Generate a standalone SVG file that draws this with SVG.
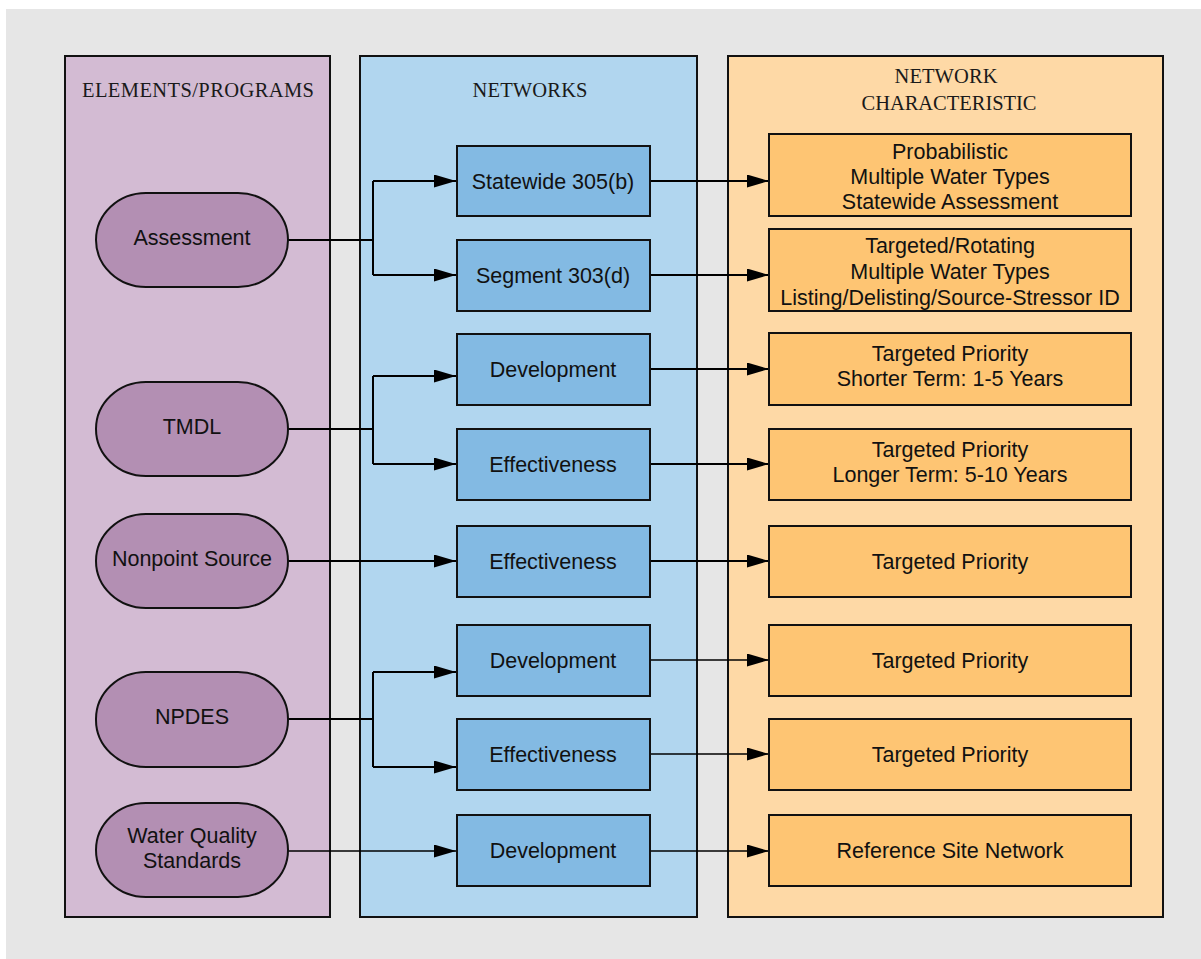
<svg xmlns="http://www.w3.org/2000/svg" width="1201" height="959" viewBox="0 0 1201 959">
<style>
.col{stroke:#111;stroke-width:2}
.title{font-family:"Liberation Serif","DejaVu Serif",serif;font-size:20.5px;fill:#1a1a1a;text-anchor:middle}
.t{font-family:"Liberation Sans",Arial,sans-serif;font-size:21.5px;fill:#111;text-anchor:middle}
.pill{fill:#b38fb3;stroke:#111;stroke-width:2}
.net{fill:#83bae3;stroke:#111;stroke-width:2}
.ch{fill:#fec573;stroke:#111;stroke-width:2}
.c{fill:none;stroke:#000;stroke-width:2}
.c2{fill:none;stroke:#000;stroke-width:1.5}
</style>
<defs>
<marker id="ah" viewBox="0 0 22 13" refX="22" refY="6.5" markerWidth="22" markerHeight="13" markerUnits="userSpaceOnUse" orient="auto">
<path d="M0,0 L22,6.5 L0,13 Z" fill="#000"/>
</marker>
</defs>
<rect x="0" y="0" width="1201" height="959" fill="#ffffff"/>
<rect x="6" y="9" width="1195" height="950" fill="#e6e6e6"/>
<g id="col-elements">
<rect class="col" x="65" y="56" width="265" height="861" fill="#d3bbd3"/>
<text class="title" x="198" y="97" textLength="232">ELEMENTS/PROGRAMS</text>
</g>
<g id="col-networks">
<rect class="col" x="360" y="56" width="337" height="861" fill="#b1d6ef"/>
<text class="title" x="530" y="97" textLength="115">NETWORKS</text>
</g>
<g id="col-characteristic">
<rect class="col" x="728" y="56" width="435" height="861" fill="#fed9a6"/>
<text class="title" x="946" y="83" textLength="103">NETWORK</text>
<text class="title" x="949" y="110" textLength="175">CHARACTERISTIC</text>
</g>
<g id="connectors">
<path class="c" d="M288,240 H373 M373,181 V275"/>
<path class="c" d="M373,181 H456" marker-end="url(#ah)"/>
<path class="c" d="M373,275 H456" marker-end="url(#ah)"/>
<path class="c" d="M650,181 H769" marker-end="url(#ah)"/>
<path class="c" d="M650,275 H769" marker-end="url(#ah)"/>
<path class="c" d="M288,429 H373 M373,376 V464"/>
<path class="c" d="M373,376 H456" marker-end="url(#ah)"/>
<path class="c" d="M373,464 H456" marker-end="url(#ah)"/>
<path class="c" d="M650,369 H769" marker-end="url(#ah)"/>
<path class="c" d="M650,464 H769" marker-end="url(#ah)"/>
<path class="c" d="M288,561 H456" marker-end="url(#ah)"/>
<path class="c" d="M650,561 H769" marker-end="url(#ah)"/>
<path class="c" d="M288,719 H373 M373,672 V767"/>
<path class="c" d="M373,672 H456" marker-end="url(#ah)"/>
<path class="c" d="M373,767 H456" marker-end="url(#ah)"/>
<path class="c2" d="M650,660 H769" marker-end="url(#ah)"/>
<path class="c2" d="M650,754 H769" marker-end="url(#ah)"/>
<path class="c2" d="M288,851 H456" marker-end="url(#ah)"/>
<path class="c2" d="M650,851 H769" marker-end="url(#ah)"/>
</g>
<g id="n-assessment"><rect class="pill" x="96" y="193" width="192" height="94" rx="50" ry="47"/><text class="t" x="192" y="245">Assessment</text></g>
<g id="n-tmdl"><rect class="pill" x="96" y="382" width="192" height="94" rx="50" ry="47"/><text class="t" x="192" y="434">TMDL</text></g>
<g id="n-nps"><rect class="pill" x="96" y="514" width="192" height="94" rx="50" ry="47"/><text class="t" x="192" y="566">Nonpoint Source</text></g>
<g id="n-npdes"><rect class="pill" x="96" y="672" width="192" height="95" rx="50" ry="47"/><text class="t" x="192" y="724">NPDES</text></g>
<g id="n-wqs"><rect class="pill" x="96" y="803" width="192" height="94" rx="50" ry="47"/><text class="t" x="192" y="843">Water Quality</text><text class="t" x="192" y="868">Standards</text></g>

<g id="n-statewide"><rect class="net" x="457" y="146" width="193" height="70"/><text class="t" x="553" y="189">Statewide 305(b)</text></g>
<g id="n-segment"><rect class="net" x="457" y="240" width="193" height="71"/><text class="t" x="553" y="283">Segment 303(d)</text></g>
<g id="n-tmdl-dev"><rect class="net" x="457" y="334" width="193" height="71"/><text class="t" x="553" y="377">Development</text></g>
<g id="n-tmdl-eff"><rect class="net" x="457" y="429" width="193" height="71"/><text class="t" x="553" y="472">Effectiveness</text></g>
<g id="n-nps-eff"><rect class="net" x="457" y="526" width="193" height="71"/><text class="t" x="553" y="569">Effectiveness</text></g>
<g id="n-npdes-dev"><rect class="net" x="457" y="625" width="193" height="71"/><text class="t" x="553" y="668">Development</text></g>
<g id="n-npdes-eff"><rect class="net" x="457" y="719" width="193" height="71"/><text class="t" x="553" y="762">Effectiveness</text></g>
<g id="n-wqs-dev"><rect class="net" x="457" y="815" width="193" height="71"/><text class="t" x="553" y="858">Development</text></g>

<g id="c-prob"><rect class="ch" x="769" y="134" width="362" height="82"/><text class="t" x="950" y="159">Probabilistic</text><text class="t" x="950" y="184">Multiple Water Types</text><text class="t" x="950" y="209">Statewide Assessment</text></g>
<g id="c-targ-rot"><rect class="ch" x="769" y="229" width="362" height="82"/><text class="t" x="950" y="253">Targeted/Rotating</text><text class="t" x="950" y="279">Multiple Water Types</text><text class="t" x="950" y="305">Listing/Delisting/Source-Stressor ID</text></g>
<g id="c-short"><rect class="ch" x="769" y="333" width="362" height="72"/><text class="t" x="950" y="361">Targeted Priority</text><text class="t" x="950" y="386">Shorter Term: 1-5 Years</text></g>
<g id="c-long"><rect class="ch" x="769" y="429" width="362" height="71"/><text class="t" x="950" y="457">Targeted Priority</text><text class="t" x="950" y="482">Longer Term: 5-10 Years</text></g>
<g id="c-nps"><rect class="ch" x="769" y="526" width="362" height="71"/><text class="t" x="950" y="569">Targeted Priority</text></g>
<g id="c-npdes-dev"><rect class="ch" x="769" y="625" width="362" height="71"/><text class="t" x="950" y="668">Targeted Priority</text></g>
<g id="c-npdes-eff"><rect class="ch" x="769" y="719" width="362" height="71"/><text class="t" x="950" y="762">Targeted Priority</text></g>
<g id="c-ref"><rect class="ch" x="769" y="815" width="362" height="71"/><text class="t" x="950" y="858">Reference Site Network</text></g>
</svg>
